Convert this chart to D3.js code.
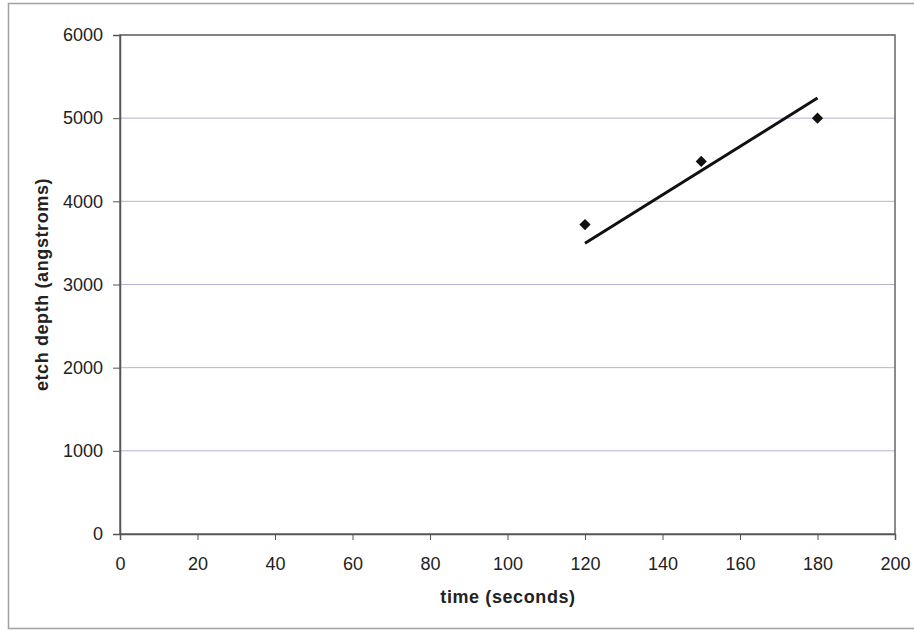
<!DOCTYPE html>
<html><head><meta charset="utf-8">
<script src="https://cdn.jsdelivr.net/npm/d3@7"></script>
<style>body{margin:0;background:#fff}svg{display:block}</style>
</head><body>
<svg id="c" width="914" height="631"></svg>
<script>
const times = [120, 150, 180];
const depths = [3720, 4480, 5000];
const xTicks = [0, 20, 40, 60, 80, 100, 120, 140, 160, 180, 200];
const yTicks = [0, 1000, 2000, 3000, 4000, 5000, 6000];
const xTitle = "time (seconds)";
const yTitle = "etch depth (angstroms)";

const svg = d3.select("#c");
const font = "'Liberation Sans', Arial, sans-serif";
const L = 120, R = 895, T = 35, B = 534;

// outer frame
svg.append("rect").attr("x", 8.5).attr("y", 3.5).attr("width", 920).attr("height", 625)
  .attr("fill", "none").attr("stroke", "#a0a0a0").attr("stroke-width", 1.5);

const x = d3.scaleLinear().domain([0, 200]).range([L, R]);
const y = d3.scaleLinear().domain([0, 6000]).range([B, T]);

// gridlines
svg.append("g").selectAll("line").data(yTicks.filter(d => d > 0)).join("line")
  .attr("x1", L).attr("x2", R).attr("y1", d => y(d)).attr("y2", d => y(d))
  .attr("stroke", "#b4b4d4").attr("stroke-width", 1);

// plot border
svg.append("rect").attr("x", L).attr("y", T).attr("width", R - L).attr("height", B - T)
  .attr("fill", "none").attr("stroke", "#666").attr("stroke-width", 1.5);

const xAxis = svg.append("g").attr("transform", `translate(0,${B})`)
  .call(d3.axisBottom(x).tickValues(xTicks).tickSize(6).tickPadding(17).tickFormat(d3.format("d")));
const yAxis = svg.append("g").attr("transform", `translate(${L},0)`)
  .call(d3.axisLeft(y).tickValues(yTicks).tickSize(7).tickPadding(10).tickFormat(d3.format("d")));
[xAxis, yAxis].forEach(a => {
  a.select(".domain").attr("stroke", "#555").attr("stroke-width", 1.5);
  a.selectAll(".tick line").attr("stroke", "#555");
  a.selectAll("text").attr("font-family", font).attr("font-size", 18).attr("fill", "#222");
});

// trendline: least squares through origin
const slope = d3.sum(times.map((t, i) => t * depths[i])) / d3.sum(times.map(t => t * t));
const tmin = d3.min(times), tmax = d3.max(times);
svg.append("line")
  .attr("x1", x(tmin)).attr("y1", y(slope * tmin))
  .attr("x2", x(tmax)).attr("y2", y(slope * tmax))
  .attr("stroke", "#111").attr("stroke-width", 3);

// points
const sym = d3.symbol().type(d3.symbolDiamond2).size(80);
svg.append("g").selectAll("path").data(times).join("path")
  .attr("d", sym)
  .attr("transform", (d, i) => `translate(${x(d)},${y(depths[i])})`)
  .attr("fill", "#111");

svg.append("text").attr("x", 508).attr("y", 603).attr("text-anchor", "middle")
  .attr("font-family", font).attr("font-size", 18).attr("font-weight", "bold").attr("fill", "#222")
  .attr("letter-spacing", 0.6)
  .text(xTitle);
svg.append("text").attr("transform", `translate(48,${(T + B) / 2}) rotate(-90)`).attr("text-anchor", "middle")
  .attr("font-family", font).attr("font-size", 18).attr("font-weight", "bold").attr("fill", "#222")
  .attr("letter-spacing", 0.6)
  .text(yTitle);
</script>
</body></html>
